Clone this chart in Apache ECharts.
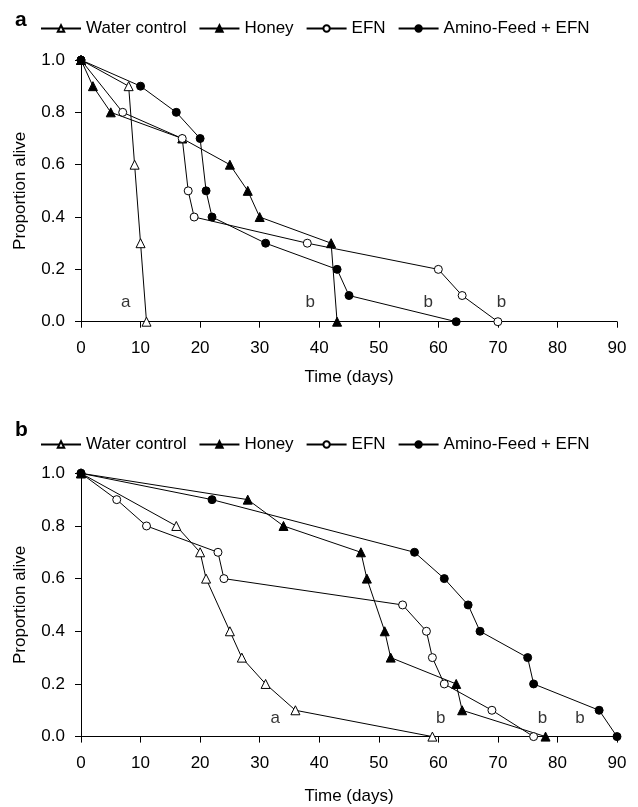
<!DOCTYPE html>
<html>
<head>
<meta charset="utf-8">
<script src="https://cdn.jsdelivr.net/npm/echarts@6/dist/echarts.min.js"></script>
<style>html,body{margin:0;padding:0;background:#fff}#c{width:638px;height:807px}</style>
</head>
<body>
<div id="c"></div>
<script>
// Panel a
const waterA_x = [0, 8, 9, 10, 11];
const waterA_y = [1.0, 0.9, 0.6, 0.3, 0.0];
const honeyA_x = [0, 2, 5, 17, 25, 28, 30, 42, 43];
const honeyA_y = [1.0, 0.9, 0.8, 0.7, 0.6, 0.5, 0.4, 0.3, 0.0];
const efnA_x = [0, 7, 17, 18, 19, 38, 60, 64, 70];
const efnA_y = [1.0, 0.8, 0.7, 0.5, 0.4, 0.3, 0.2, 0.1, 0.0];
const aminoA_x = [0, 10, 16, 20, 21, 22, 31, 43, 45, 63];
const aminoA_y = [1.0, 0.9, 0.8, 0.7, 0.5, 0.4, 0.3, 0.2, 0.1, 0.0];
const lettersA = [[7.5, 0.075, 'a'], [38.5, 0.075, 'b'], [58.3, 0.075, 'b'], [70.6, 0.075, 'b']];

// Panel b
const waterB_x = [0, 16, 20, 21, 25, 27, 31, 36, 59];
const waterB_y = [1.0, 0.8, 0.7, 0.6, 0.4, 0.3, 0.2, 0.1, 0.0];
const honeyB_x = [0, 28, 34, 47, 48, 51, 52, 63, 64, 78];
const honeyB_y = [1.0, 0.9, 0.8, 0.7, 0.6, 0.4, 0.3, 0.2, 0.1, 0.0];
const efnB_x = [0, 6, 11, 23, 24, 54, 58, 59, 61, 69, 76];
const efnB_y = [1.0, 0.9, 0.8, 0.7, 0.6, 0.5, 0.4, 0.3, 0.2, 0.1, 0.0];
const aminoB_x = [0, 22, 56, 61, 65, 67, 75, 76, 87, 90];
const aminoB_y = [1.0, 0.9, 0.7, 0.6, 0.5, 0.4, 0.3, 0.2, 0.1, 0.0];
const lettersB = [[32.6, 0.07, 'a'], [60.4, 0.07, 'b'], [77.5, 0.07, 'b'], [83.8, 0.07, 'b']];

const seriesNames = ['Water control', 'Honey', 'EFN', 'Amino-Feed + EFN'];
const xTicks = [0, 10, 20, 30, 40, 50, 60, 70, 80, 90];
const yTicks = [0.0, 0.2, 0.4, 0.6, 0.8, 1.0];

const FONT = 'Liberation Sans, Arial, Helvetica, sans-serif';
const zip = (xs, ys) => xs.map((x, i) => [x, ys[i]]);

const styles = [
  { symbol: 'triangle', symbolSize: 9, fill: '#fff' },
  { symbol: 'triangle', symbolSize: 9, fill: '#000' },
  { symbol: 'circle', symbolSize: 8, fill: '#fff' },
  { symbol: 'circle', symbolSize: 8, fill: '#000' }
];

function mkSeries(idx, name, data, g) {
  const s = styles[idx];
  return {
    type: 'line', name, data, xAxisIndex: g, yAxisIndex: g,
    symbol: s.symbol, symbolSize: s.symbolSize, showAllSymbol: true, clip: false,
    lineStyle: { color: '#000', width: 1 },
    itemStyle: { color: s.fill, borderColor: '#000', borderWidth: 1 },
    emphasis: { disabled: true }, animation: false, z: 3 + idx
  };
}
function letters(data, g) {
  return {
    type: 'scatter', data: data.map(d => ({ value: [d[0], d[1]], name: d[2] })),
    xAxisIndex: g, yAxisIndex: g, symbolSize: 1,
    itemStyle: { color: 'rgba(0,0,0,0)' },
    label: { show: true, position: 'inside', formatter: p => p.name, color: '#000', fontSize: 17, fontFamily: FONT },
    silent: true, animation: false
  };
}

const xAxisBase = (g, nameGap) => ({
  type: 'value', gridIndex: g, min: 0, max: 90, interval: 10,
  name: 'Time (days)', nameLocation: 'middle', nameGap,
  nameTextStyle: { color: '#000', fontSize: 17, fontFamily: FONT },
  axisLine: { onZero: false, lineStyle: { color: '#000', width: 1 } },
  axisTick: { show: true, length: 6, lineStyle: { color: '#000' } },
  axisLabel: { color: '#000', fontSize: 17, fontFamily: FONT, margin: 18, formatter: v => xTicks.includes(v) ? String(v) : '' },
  splitLine: { show: false }
});
const yAxisBase = (g) => ({
  type: 'value', gridIndex: g, min: 0, max: 1, interval: 0.2,
  name: 'Proportion alive', nameLocation: 'middle', nameGap: 52, nameRotate: 90,
  nameTextStyle: { color: '#000', fontSize: 17, fontFamily: FONT },
  axisLine: { show: true, onZero: false, lineStyle: { color: '#000', width: 1 } },
  axisTick: { show: true, length: 6, lineStyle: { color: '#000' } },
  axisLabel: { color: '#000', fontSize: 17, fontFamily: FONT, margin: 16, formatter: v => v.toFixed(1) },
  splitLine: { show: false }
});
const legendBase = (top) => ({
  data: seriesNames, left: 35, top, orient: 'horizontal',
  itemWidth: 40, itemHeight: 8, itemGap: 12, selectedMode: false,
  textStyle: { color: '#000', fontSize: 17, fontFamily: FONT, padding: [0, 0, 0, 0] }
});

const chart = echarts.init(document.getElementById('c'), null, { renderer: 'canvas' });
chart.setOption({
  backgroundColor: '#fff',
  animation: false,
  title: [
    { text: 'a', left: 10, top: 5, textStyle: { fontSize: 21, fontWeight: 'bold', color: '#000', fontFamily: FONT } },
    { text: 'b', left: 10, top: 415, textStyle: { fontSize: 21, fontWeight: 'bold', color: '#000', fontFamily: FONT } }
  ],
  legend: [legendBase(15), legendBase(431)],
  grid: [
    { left: 81, right: 21, top: 60, height: 261.7 },
    { left: 81, right: 21, top: 473.3, height: 263.3 }
  ],
  xAxis: [xAxisBase(0, 47), xAxisBase(1, 51)],
  yAxis: [yAxisBase(0), yAxisBase(1)],
  series: [
    mkSeries(0, seriesNames[0], zip(waterA_x, waterA_y), 0),
    mkSeries(1, seriesNames[1], zip(honeyA_x, honeyA_y), 0),
    mkSeries(2, seriesNames[2], zip(efnA_x, efnA_y), 0),
    mkSeries(3, seriesNames[3], zip(aminoA_x, aminoA_y), 0),
    letters(lettersA, 0),
    mkSeries(0, seriesNames[0], zip(waterB_x, waterB_y), 1),
    mkSeries(1, seriesNames[1], zip(honeyB_x, honeyB_y), 1),
    mkSeries(2, seriesNames[2], zip(efnB_x, efnB_y), 1),
    mkSeries(3, seriesNames[3], zip(aminoB_x, aminoB_y), 1),
    letters(lettersB, 1)
  ]
});
</script>
</body>
</html>
